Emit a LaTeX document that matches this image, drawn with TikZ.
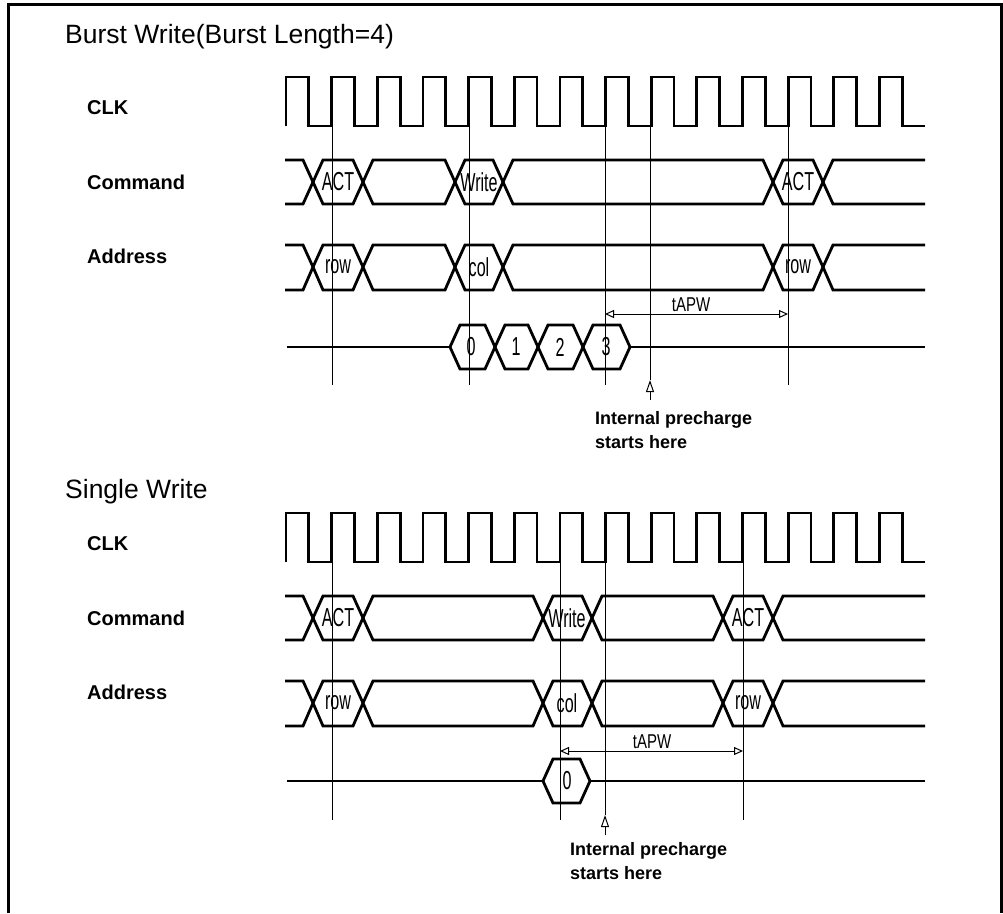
\documentclass[tikz,border=0pt]{standalone}
\usepackage{fontspec}
\setmainfont{Liberation Sans}
\newfontfamily\hexfont[FakeStretch=0.62]{Liberation Sans}
\newfontfamily\dimfont[FakeStretch=0.75]{Liberation Sans}
\usetikzlibrary{arrows.meta}
\tikzset{
  sig/.style={line width=2.8pt},
  guide/.style={line width=1pt},
  dimline/.style={line width=1pt, {Triangle[open,length=9pt,width=8pt]}-{Triangle[open,length=9pt,width=8pt]}},
  pointer/.style={line width=1pt, -{Triangle[open,length=12pt,width=8pt]}},
  title/.style={anchor=base west, inner sep=0pt, font=\fontsize{26.5}{30}\selectfont},
  sigtext/.style={anchor=base west, inner sep=0pt, font=\bfseries\fontsize{20}{24}\selectfont},
  notetext/.style={anchor=base west, inner sep=0pt, font=\bfseries\fontsize{18}{22}\selectfont},
  hexlabel/.style={inner sep=0pt, font=\hexfont\fontsize{26}{30}\selectfont},
  dimlabel/.style={inner sep=0pt, font=\dimfont\fontsize{20}{24}\selectfont}
}
\begin{document}
\begin{tikzpicture}[x=1pt, y=-1pt]
  \useasboundingbox (0,0) rectangle (1003,913);
  \draw[line width=3pt] (8,913) -- (8,4) -- (1001,4) -- (1001,913);

  % burst write
  \node[title] (burst) at (65,43) {Burst Write(Burst Length=4)};
  \node[sigtext] (clkA) at (87,114) {CLK};
  \node[sigtext] (cmdA) at (87,189) {Command};
  \node[sigtext] (addrA) at (87,263) {Address};
  \draw[sig] (286,126) \foreach \k in {1,...,14}{ -- ++(0,-49) -- ++(22.8,0) -- ++(0,49) -- ++(22.85,0) };
  \begin{scope}
    \clip (285,0) rectangle (925,913);
    \foreach \a/\b in {265/313, 313/363, 363/455, 455/503, 503/773, 773/823, 823/945}{
      \draw[sig] (\a,182) -- ({\a+10},160) -- ({\b-10},160) -- (\b,182) -- ({\b-10},204) -- ({\a+10},204) -- cycle;
      \draw[sig] (\a,267) -- ({\a+10},245) -- ({\b-10},245) -- (\b,267) -- ({\b-10},290) -- ({\a+10},290) -- cycle;
    }
  \end{scope}
  \node[hexlabel] (actA) at (338,182) {ACT};
  \node[hexlabel] (wrA) at (479,182) {Write};
  \node[hexlabel] (actB) at (798,182) {ACT};
  \node[hexlabel] (rowA) at (338,267) {row};
  \node[hexlabel] (colA) at (479,267) {col};
  \node[hexlabel] (rowB) at (798,267) {row};
  \draw[sig] (287,347) -- (450,347) (630,347) -- (925,347);
  \foreach \a/\b in {450/495, 495/538, 538/583, 583/630}
    \draw[sig] (\a,347) -- ({\a+10},325) -- ({\b-10},325) -- (\b,347) -- ({\b-10},369) -- ({\a+10},369) -- cycle;
  \node[hexlabel] (d0) at (471,347) {0};
  \node[hexlabel] (d1) at (516,347) {1};
  \node[hexlabel] (d2) at (560,347) {2};
  \node[hexlabel] (d3) at (606,347) {3};
  \foreach \x in {332,469,605,788}
    \draw[guide] (\x,126) -- (\x,385);
  \draw[guide] (650,126) -- (650,380);
  \coordinate (wA1) at (605,314);
  \coordinate (wA2) at (788,314);
  \draw[dimline] (wA1) -- (wA2);
  \node[dimlabel, anchor=south] (apwA) at (691,312) {tAPW};
  \coordinate (tipA) at (650,380);
  \coordinate (tailA) at (650,400);
  \draw[pointer] (tailA) -- (tipA);
  \node[notetext] (preA) at (595,424) {Internal precharge};
  \node[notetext] (hereA) at (595,448) {starts here};

  % single write
  \node[title] (single) at (65,498) {Single Write};
  \node[sigtext] (clkB) at (87,550) {CLK};
  \node[sigtext] (cmdB) at (87,625) {Command};
  \node[sigtext] (addrB) at (87,699) {Address};
  \draw[sig] (286,562) \foreach \k in {1,...,14}{ -- ++(0,-49) -- ++(22.8,0) -- ++(0,49) -- ++(22.85,0) };
  \begin{scope}
    \clip (285,0) rectangle (925,913);
    \foreach \a/\b in {265/313, 313/363, 363/543, 543/592, 592/723, 723/773, 773/945}{
      \draw[sig] (\a,618) -- ({\a+10},596) -- ({\b-10},596) -- (\b,618) -- ({\b-10},640) -- ({\a+10},640) -- cycle;
      \draw[sig] (\a,703) -- ({\a+10},681) -- ({\b-10},681) -- (\b,703) -- ({\b-10},726) -- ({\a+10},726) -- cycle;
    }
  \end{scope}
  \node[hexlabel] (actC) at (338,618) {ACT};
  \node[hexlabel] (wrC) at (567,618) {Write};
  \node[hexlabel] (actD) at (748,618) {ACT};
  \node[hexlabel] (rowC) at (338,703) {row};
  \node[hexlabel] (colC) at (567,703) {col};
  \node[hexlabel] (rowD) at (748,703) {row};
  \draw[sig] (287,781) -- (543,781) (590,781) -- (925,781);
  \draw[sig] (543,781) -- (553,759) -- (580,759) -- (590,781) -- (580,803) -- (553,803) -- cycle;
  \node[hexlabel] (e0) at (567,781) {0};
  \foreach \x in {332,560,743}
    \draw[guide] (\x,562) -- (\x,820);
  \draw[guide] (605,562) -- (605,815);
  \coordinate (wB1) at (560,751);
  \coordinate (wB2) at (743,751);
  \draw[dimline] (wB1) -- (wB2);
  \node[dimlabel, anchor=south] (apwB) at (652,749) {tAPW};
  \coordinate (tipB) at (605,815);
  \coordinate (tailB) at (605,835);
  \draw[pointer] (tailB) -- (tipB);
  \node[notetext] (preB) at (570,855) {Internal precharge};
  \node[notetext] (hereB) at (570,879) {starts here};
\end{tikzpicture}
\end{document}
